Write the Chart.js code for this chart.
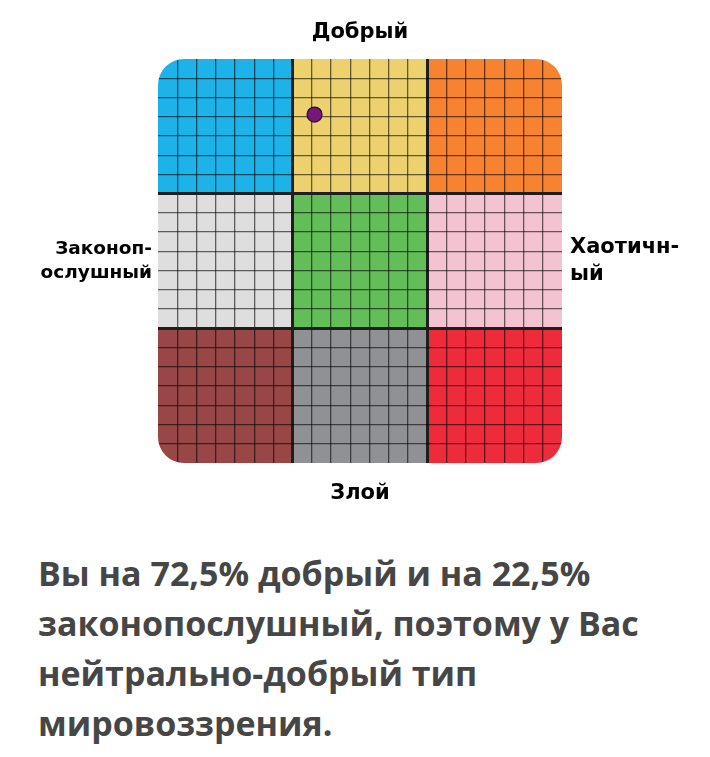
<!DOCTYPE html>
<html>
<head>
<meta charset="utf-8">
<script src="https://cdn.jsdelivr.net/npm/chart.js@4/dist/chart.umd.min.js"></script>
<style>
  html, body { margin: 0; padding: 0; background: #fff; width: 710px; height: 757px; overflow: hidden; }
  #wrap { position: absolute; left: 0; top: 0; width: 710px; height: 520px; }
  #result {
    position: absolute; left: 38px; top: 548px; width: 660px;
    font-family: "Open Sans", sans-serif; font-weight: 700; font-size: 34px;
    line-height: 50px; color: #464646; white-space: nowrap;
  }
</style>
</head>
<body>
<div id="wrap"><canvas id="c" width="710" height="520"></canvas></div>
<div id="result">Вы на 72,5% добрый и на 22,5%<br>законопослушный, поэтому у Вас<br>нейтрально-добрый тип<br>мировоззрения.</div>
<script>
// ---- data ----
const lawChaos = [-22.5];      // x: negative = lawful, positive = chaotic (%)
const goodEvil = [72.5];       // y: positive = good, negative = evil (%)
const topLabel = 'Добрый';
const bottomLabel = 'Злой';
const leftLabel = ['Законоп-', 'ослушный'];
const rightLabel = ['Хаотичн-', 'ый'];
const regionBounds = [-100, -100 / 3, 100 / 3, 100];
const regionColors = [
  ['#1db3e8', '#ecd16e', '#f7822f'],
  ['#dedede', '#63bd59', '#f4c3d1'],
  ['#984646', '#8f9194', '#ed2b3b']
];
const gridDivisions = 21;
const axisMin = -100, axisMax = 100;

// ---- layout constants ----
const AREA = { left: 158, right: 562, top: 59, bottom: 463 };
const CANVAS_W = 710, CANVAS_H = 520;
const cornerRadius = 26;

const gridTicks = [];
for (let i = 0; i <= gridDivisions; i++) gridTicks.push(axisMin + i * (axisMax - axisMin) / gridDivisions);

const bigFont = { family: 'DejaVu Sans', weight: 'bold', size: 21, lineHeight: 1.25 };
const leftFont = { family: 'DejaVu Sans', weight: 'bold', size: 18.5, lineHeight: 1.3 };

function gridWidth(ctx) {
  const i = ctx.index;
  if (i === 0 || i === gridDivisions) return 0;
  return (i % 7 === 0) ? 3 : 1.3;
}
function gridColor(ctx) {
  return (ctx.index % 7 === 0) ? '#1e1e1e' : 'rgba(0,0,0,0.58)';
}

const regionPlugin = {
  id: 'regions',
  beforeDraw(chart) {
    const { ctx } = chart;
    const xs = chart.scales.x, ys = chart.scales.y;
    ctx.save();
    for (let r = 0; r < 3; r++) {
      for (let c = 0; c < 3; c++) {
        const x0 = xs.getPixelForValue(regionBounds[c]);
        const x1 = xs.getPixelForValue(regionBounds[c + 1]);
        const y0 = ys.getPixelForValue(regionBounds[3 - r]);
        const y1 = ys.getPixelForValue(regionBounds[2 - r]);
        ctx.fillStyle = regionColors[r][c];
        ctx.fillRect(x0, y0, x1 - x0, y1 - y0);
      }
    }
    ctx.restore();
  },
  beforeDatasetsDraw(chart) {
    const { ctx, chartArea: a } = chart;
    const r = cornerRadius;
    ctx.save();
    ctx.beginPath();
    ctx.rect(a.left - 2, a.top - 2, a.right - a.left + 4, a.bottom - a.top + 4);
    ctx.moveTo(a.left + r, a.top);
    ctx.arcTo(a.left, a.top, a.left, a.top + r, r);
    ctx.lineTo(a.left, a.bottom - r);
    ctx.arcTo(a.left, a.bottom, a.left + r, a.bottom, r);
    ctx.lineTo(a.right - r, a.bottom);
    ctx.arcTo(a.right, a.bottom, a.right, a.bottom - r, r);
    ctx.lineTo(a.right, a.top + r);
    ctx.arcTo(a.right, a.top, a.right - r, a.top, r);
    ctx.closePath();
    ctx.fillStyle = '#ffffff';
    ctx.fill('evenodd');
    ctx.restore();
  }
};

const zeroTick = (scale) => { scale.ticks = [{ value: 0 }]; };
const gridTickBuild = (scale) => { scale.ticks = gridTicks.map(v => ({ value: v })); };

new Chart(document.getElementById('c'), {
  type: 'scatter',
  data: {
    datasets: [{
      data: lawChaos.map((x, i) => ({ x, y: goodEvil[i] })),
      pointRadius: 7.5,
      pointHoverRadius: 7.5,
      pointBackgroundColor: '#74187c',
      pointBorderColor: '#2a0a2a',
      pointBorderWidth: 1.2
    }]
  },
  options: {
    responsive: false,
    animation: false,
    devicePixelRatio: 1,
    layout: { padding: 0 },
    plugins: { legend: { display: false }, tooltip: { enabled: false } },
    scales: {
      x: {
        type: 'linear', position: 'bottom', min: axisMin, max: axisMax,
        afterBuildTicks: gridTickBuild,
        afterFit: (s) => { s.height = 0; },
        ticks: { display: false },
        border: { display: false },
        grid: { drawTicks: false, lineWidth: gridWidth, color: gridColor }
      },
      y: {
        type: 'linear', position: 'left', min: axisMin, max: axisMax,
        afterBuildTicks: gridTickBuild,
        afterFit: (s) => { s.width = 0; },
        ticks: { display: false },
        border: { display: false },
        grid: { drawTicks: false, lineWidth: gridWidth, color: gridColor }
      },
      xTop: {
        type: 'linear', position: 'top', min: axisMin, max: axisMax,
        afterBuildTicks: zeroTick,
        afterFit: (s) => { s.height = AREA.top; },
        border: { display: false },
        grid: { display: false, drawTicks: false },
        ticks: { padding: 13, color: '#000', font: bigFont, callback: () => topLabel, maxRotation: 0 }
      },
      xBottom: {
        type: 'linear', position: 'bottom', min: axisMin, max: axisMax,
        afterBuildTicks: zeroTick,
        afterFit: (s) => { s.height = CANVAS_H - AREA.bottom; },
        border: { display: false },
        grid: { display: false, drawTicks: false },
        ticks: { padding: 17, color: '#000', font: bigFont, callback: () => bottomLabel, maxRotation: 0 }
      },
      yLeft: {
        type: 'linear', position: 'left', min: axisMin, max: axisMax,
        afterBuildTicks: zeroTick,
        afterFit: (s) => { s.width = AREA.left; },
        border: { display: false },
        grid: { display: false, drawTicks: false },
        ticks: { padding: 6, color: '#000', font: leftFont, callback: () => leftLabel }
      },
      yRight: {
        type: 'linear', position: 'right', min: axisMin, max: axisMax,
        afterBuildTicks: zeroTick,
        afterFit: (s) => { s.width = CANVAS_W - AREA.right; },
        border: { display: false },
        grid: { display: false, drawTicks: false },
        ticks: { padding: 8, color: '#000', font: bigFont, callback: () => rightLabel }
      }
    }
  },
  plugins: [regionPlugin]
});
</script>
</body>
</html>
